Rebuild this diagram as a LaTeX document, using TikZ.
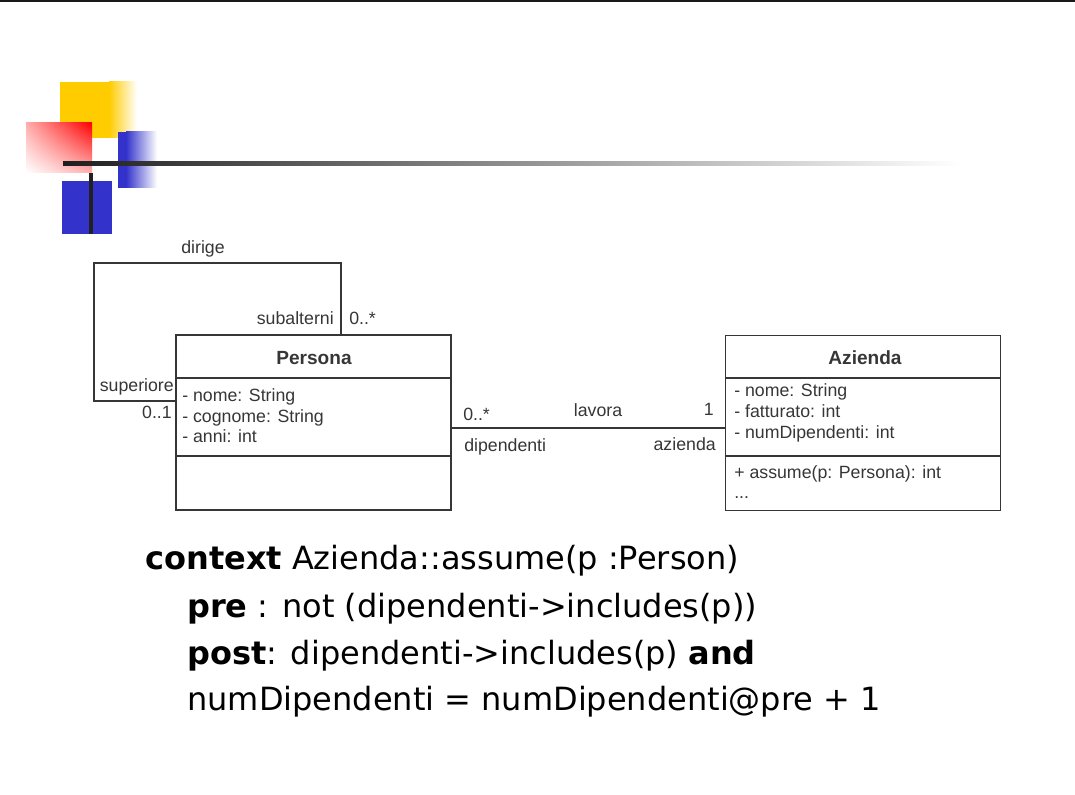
\documentclass[tikz,border=0pt]{standalone}
\usepackage{fontspec}
\setmainfont{Liberation Sans}
\newfontfamily\oclfont{DejaVu Sans}
\usetikzlibrary{positioning,shadings}

\definecolor{umlgray}{HTML}{363636}
\definecolor{slideyellow}{HTML}{FFCC00}
\definecolor{slideblue}{HTML}{3333CC}
\definecolor{slidered}{HTML}{FF0000}

\begin{document}
\begin{tikzpicture}[x=0.75pt, y=-0.75pt,
    classbox/.style={draw=umlgray, line width=1.1pt, minimum width=206.25pt, minimum height=131.25pt, inner sep=0pt},
    assoc/.style={draw=umlgray, line width=1.1pt},
    umltext/.style={text=umlgray, font=\fontsize{13.3}{15}\selectfont, inner sep=0pt, anchor=base},
    attr/.style={umltext, anchor=base west},
    classname/.style={text=umlgray, font=\fontsize{14.3}{16}\selectfont\bfseries, inner sep=0pt, anchor=base},
    ocl/.style={font=\oclfont\fontsize{24}{30}\selectfont, anchor=base west, inner sep=0pt}]
    \useasboundingbox (0,0) rectangle (1075,795);
    \fill[black!90] (0,0) rectangle (1075,2.5);

    % slide decoration
    \fill[slideyellow] (60,82) rectangle (109,138);
    \shade[left color=slideyellow, right color=white] (109,82) rectangle (137,138);
    \shade[upper left=slidered!32, upper right=slidered, lower left=white, lower right=slidered!30] (26,123) rectangle (92,173);
    \fill[slideblue] (118,132) rectangle (126,188);
    \shade[left color=slideblue, right color=white] (126,132) rectangle (157,188);
    \fill[slideblue] (62,181) rectangle (112,234);
    \shade[left color=black!88, right color=white] (63,162) rectangle (960,166);
    \fill[black!87] (89,173) rectangle (93,234);

    % classes
    \node[classbox] (persona) at (313.5,422.5) {};
    \node[classbox] (azienda) at (863,423) {};
    \draw[assoc] (persona.west |- 0,378) -- (persona.east |- 0,378);
    \draw[assoc] (persona.west |- 0,456) -- (persona.east |- 0,456);
    \draw[assoc] (azienda.west |- 0,378) -- (azienda.east |- 0,378);
    \draw[assoc] (azienda.west |- 0,456) -- (azienda.east |- 0,456);
    \node[classname] (personaName) at (314,364.5) {Persona};
    \node[classname] (aziendaName) at (865,364.5) {Azienda};

    \node[attr] (pNome) at (182,401.5) {- nome: String};
    \node[attr] (pCognome) at (182,422) {- cognome: String};
    \node[attr] (pAnni) at (182,442.5) {- anni: int};

    \node[attr] (aNome) at (734,396.5) {- nome: String};
    \node[attr] (aFatturato) at (734,417.5) {- fatturato: int};
    \node[attr] (aNumDip) at (734,438) {- numDipendenti: int};
    \node[attr] (aAssume) at (734,478) {+ assume(p: Persona): int};
    \node[attr] (aDots) at (734,498) {...};

    % associations
    \draw[assoc] (persona.north -| 341,0) |- (94,263) |- (persona.west |- 0,401);
    \node[umltext] (dirige) at (203,253) {dirige};
    \node[umltext, anchor=base east] (subalterni) at (334,324) {subalterni};
    \node[umltext, anchor=base west] (subMult) at (349,324) {0..*};
    \node[umltext, anchor=base east] (superiore) at (174,391.5) {superiore};
    \node[umltext, anchor=base east] (supMult) at (172,418) {0..1};

    \draw[assoc] (persona.east |- 0,428) -- (azienda.west |- 0,428);
    \node[umltext, anchor=base west] (dipMult) at (463,420) {0..*};
    \node[umltext] (lavora) at (598,416) {lavora};
    \node[umltext, anchor=base east] (azMult) at (714,415) {1};
    \node[umltext, anchor=base west] (dipendenti) at (464,451) {dipendenti};
    \node[umltext, anchor=base east] (aziendaRole) at (716,450) {azienda};

    % OCL constraint
    \node[ocl] (context) at (145,569) {\textbf{context} Azienda::assume(p :Person)};
    \node[ocl] (pre) at (187,617) {\textbf{pre} : not (dipendenti->includes(p))};
    \node[ocl] (post) at (187,664) {\textbf{post}: dipendenti->includes(p) \textbf{and}};
    \node[ocl] (numDip) at (187,710) {numDipendenti = numDipendenti@pre + 1};
\end{tikzpicture}
\end{document}
